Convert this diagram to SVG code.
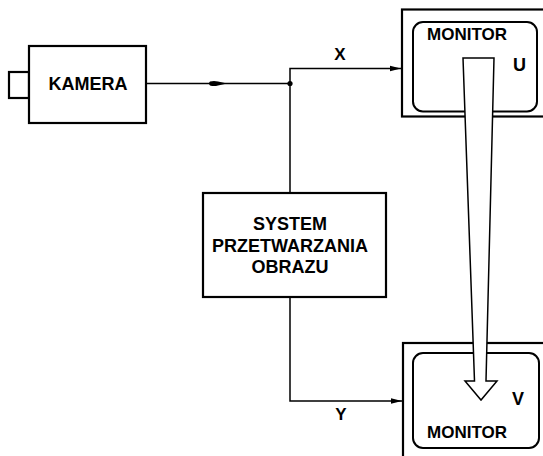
<svg xmlns="http://www.w3.org/2000/svg" width="543" height="456" viewBox="0 0 543 456">
<style>
.box{fill:#fff;stroke:#000;stroke-width:2.2}
.inner{fill:none;stroke:#000;stroke-width:2}
.wire{fill:none;stroke:#000;stroke-width:1.5}
.t{font-family:"Liberation Sans",Arial,sans-serif;font-weight:bold;font-size:17px;fill:#000}
.m{text-anchor:middle}
</style>
<defs>
<marker id="ah" markerWidth="12" markerHeight="8" refX="11" refY="4" orient="auto" markerUnits="userSpaceOnUse">
<path d="M0,1.3 L11,4 L0,6.7 Z" fill="#000"/>
</marker>
</defs>
<rect width="543" height="456" fill="#fff"/>
<g id="connectors">
<path class="wire" d="M146,83.5 H290"/>
<path d="M210,81.5 Q214,80.5 218,81.5 L227,83.5 L218,85.5 Q214,86.5 210,85.5 Q208,83.5 210,81.5 Z" fill="#000"/>
<circle cx="290" cy="83.5" r="2.6" fill="#000"/>
<path class="wire" d="M290,193 V68.5 H401" marker-end="url(#ah)"/>
<path class="wire" d="M290,297 V401 H402" marker-end="url(#ah)"/>
<text class="t m" x="340" y="60">X</text>
<text class="t m" x="341" y="420">Y</text>
</g>
<g id="kamera">
<rect class="box" x="9" y="72" width="20" height="26"/>
<rect class="box" x="29" y="46" width="117" height="77"/>
<text class="t m" x="88" y="90" style="font-size:18px">KAMERA</text>
</g>
<g id="system">
<rect class="box" x="203" y="193" width="183" height="104"/>
<text class="t m" x="290" y="230" style="font-size:18px">SYSTEM</text>
<text class="t m" x="290" y="252" style="font-size:18px">PRZETWARZANIA</text>
<text class="t m" x="290" y="273" style="font-size:18px">OBRAZU</text>
</g>
<g id="monitor-u">
<rect class="box" x="402" y="9.5" width="160" height="107" stroke-width="2.6"/>
<rect class="inner" x="413" y="22" width="124" height="89.5" rx="10"/>
<text class="t" x="427" y="40">MONITOR</text>
<text class="t" x="513" y="71" style="font-size:18px">U</text>
</g>
<g id="monitor-v">
<rect class="box" x="403" y="343" width="160" height="130" stroke-width="2.6"/>
<rect class="inner" x="413" y="353" width="126" height="95" rx="10"/>
<text class="t" x="427" y="438">MONITOR</text>
<text class="t" x="512" y="405" style="font-size:18px">V</text>
</g>
<g id="transfer-arrow">
<path d="M463,58 H494 L486,381 H497 L481,400 L465,381 H474.5 Z" fill="#fff" stroke="#000" stroke-width="1.5" stroke-linejoin="miter"/>
</g>
</svg>
